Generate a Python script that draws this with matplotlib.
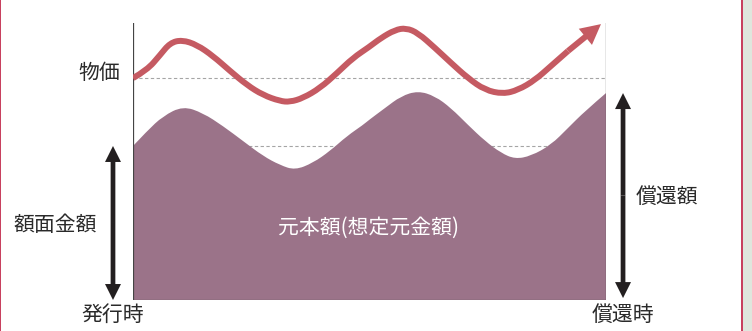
import matplotlib
matplotlib.use("Agg")
import matplotlib.pyplot as plt
from matplotlib.patches import Rectangle, PathPatch
from matplotlib.path import Path

plt.rcParams['font.family'] = ['Noto Sans CJK JP', 'DejaVu Sans']

# ---- data (time 0..100 from issue to redemption, value 0..100) ----
price_t = [0.0, 2.96, 5.71, 7.82, 10.36, 13.53, 16.91, 20.51, 24.10, 27.48,
           31.08, 33.19, 35.94, 39.53, 43.13, 46.51, 49.89, 52.43, 55.39, 57.72,
           60.25, 63.85, 67.23, 70.82, 74.42, 78.22, 81.40, 84.99, 88.37, 91.97,
           98.94]
price_v = [80.1, 83.0, 88.4, 92.8, 93.9, 92.1, 88.1, 82.7, 77.6, 74.0,
           71.8, 71.5, 72.9, 76.5, 81.9, 87.4, 91.3, 94.6, 97.5, 98.2,
           96.4, 91.0, 85.6, 80.1, 75.8, 74.4, 75.8, 79.4, 84.5, 89.9,
           99.6]
principal_t = [0.0, 2.96, 6.34, 10.57, 14.80, 19.03, 23.26, 27.48, 31.08, 34.25,
               38.05, 41.65, 45.24, 48.63, 49.89, 53.28, 56.66, 60.25, 63.85, 67.23,
               70.82, 74.42, 77.80, 80.76, 84.14, 88.37, 91.97, 95.56, 100.0]
principal_v = [55.6, 61.0, 66.4, 70.0, 67.5, 62.8, 57.4, 52.0, 48.7, 46.9,
               49.5, 53.8, 59.2, 63.2, 65.0, 69.3, 73.6, 75.5, 73.6, 69.3,
               63.2, 57.4, 53.1, 50.9, 52.0, 56.0, 62.1, 68.2, 74.7]
price_base = 80.1
principal_base = 55.6
face_value = principal_v[0]
redemption_value = principal_v[-1]

labels = {
    'price': '物価',
    'face': '額面金額',
    'issue': '発行時',
    'redeem': '償還時',
    'redeem_amt': '償還額',
    'principal': '元本額(想定元金額)',
}

RED = '#c55a62'
FILL = '#9b7389'
DARK = '#231f20'
GRID = '#a5a5a5'


def smooth_path(xs, ys):
    """Quadratic B-spline path through the read points (drawn by matplotlib Path)."""
    pts = list(zip(xs, ys))
    verts = [pts[0]]
    codes = [Path.MOVETO]
    for i in range(1, len(pts) - 1):
        mid = ((pts[i][0] + pts[i + 1][0]) / 2, (pts[i][1] + pts[i + 1][1]) / 2)
        if i == len(pts) - 2:
            mid = pts[i + 1]
        verts += [pts[i], mid]
        codes += [Path.CURVE3, Path.CURVE3]
    return verts, codes


fig = plt.figure(figsize=(7.52, 3.31), dpi=100)
ax = fig.add_axes([133/752, 31/331, 473/752, 277/331])
ax.set_xlim(0, 100)
ax.set_ylim(0, 100)
ax.axis('off')

# dashed reference lines
ax.plot([0, 100], [price_base, price_base], color=GRID, lw=0.8,
        dashes=(3, 2.2), zorder=1)
ax.plot([0, 100], [principal_base, principal_base], color=GRID, lw=0.8,
        dashes=(3, 2.2), zorder=1)

# principal fill
fv, fc = smooth_path(principal_t, principal_v)
fv = fv + [(principal_t[-1], 0), (principal_t[0], 0), fv[0]]
fc = fc + [Path.LINETO, Path.LINETO, Path.CLOSEPOLY]
ax.add_patch(PathPatch(Path(fv, fc), facecolor=FILL, edgecolor='none', zorder=2))

# frame lines
ax.plot([0, 0], [0, 100], color='#444444', lw=0.9, zorder=3)
ax.plot([100, 100], [0, 100], color='#444444', lw=0.9, zorder=3)
ax.plot([0, 100], [0, 0], color='#555555', lw=0.9, zorder=3)

# price line with arrow
pv, pc = smooth_path(price_t[:-1], price_v[:-1])
ax.add_patch(PathPatch(Path(pv, pc), facecolor='none', edgecolor=RED, lw=4.3,
                       capstyle='butt', joinstyle='round', zorder=4))
ax.annotate('', xy=(price_t[-1], price_v[-1]), xytext=(price_t[-2], price_v[-2]),
            arrowprops=dict(arrowstyle='simple,head_length=1.45,head_width=1.5,tail_width=0.43',
                            mutation_scale=10, fc=RED, ec='none', lw=0,
                            shrinkA=0, shrinkB=0),
            zorder=5, annotation_clip=False)


def double_arrow(x, y0, y1):
    mid = (y0 + y1) / 2
    for end in (y0, y1):
        ax.annotate('', xy=(x, end), xytext=(x, mid),
                    arrowprops=dict(arrowstyle='simple,head_length=1.15,head_width=1.15,tail_width=0.34',
                                    mutation_scale=10, fc=DARK, ec='none', lw=0,
                                    shrinkA=0, shrinkB=0),
                    annotation_clip=False)


double_arrow(-4.23, 0.0, face_value)
double_arrow(103.6, 0.7, redemption_value)

fs = 15
tc = '#2a2a2a'
ax.text(-2.75, 81.9, labels['price'], ha='right', va='center', fontsize=fs, color=tc, clip_on=False)
ax.text(-16.5, 27.1, labels['face'], ha='center', va='center', fontsize=fs, color=tc, clip_on=False)
ax.text(-4.23, -5.4, labels['issue'], ha='center', va='center', fontsize=fs, color=tc, clip_on=False)
ax.text(103.6, -5.4, labels['redeem'], ha='center', va='center', fontsize=fs, color=tc, clip_on=False)
ax.text(112.9, 37.2, labels['redeem_amt'], ha='center', va='center', fontsize=fs, color=tc, clip_on=False)
ax.text(49.7, 26.0, labels['principal'], ha='center', va='center', fontsize=fs, color='white', clip_on=False)

# page borders
fig.patches.append(Rectangle((0, 0), 1.5/752, 1, transform=fig.transFigure,
                             color='#c8415f', lw=0))
fig.patches.append(Rectangle((741/752, 0), 1.5/752, 1, transform=fig.transFigure,
                             color='#c8415f', lw=0))
fig.patches.append(Rectangle((742.5/752, 0), 9.5/752, 1, transform=fig.transFigure,
                             color='#dfe6dd', lw=0))

fig.savefig('out.png', dpi=100)
